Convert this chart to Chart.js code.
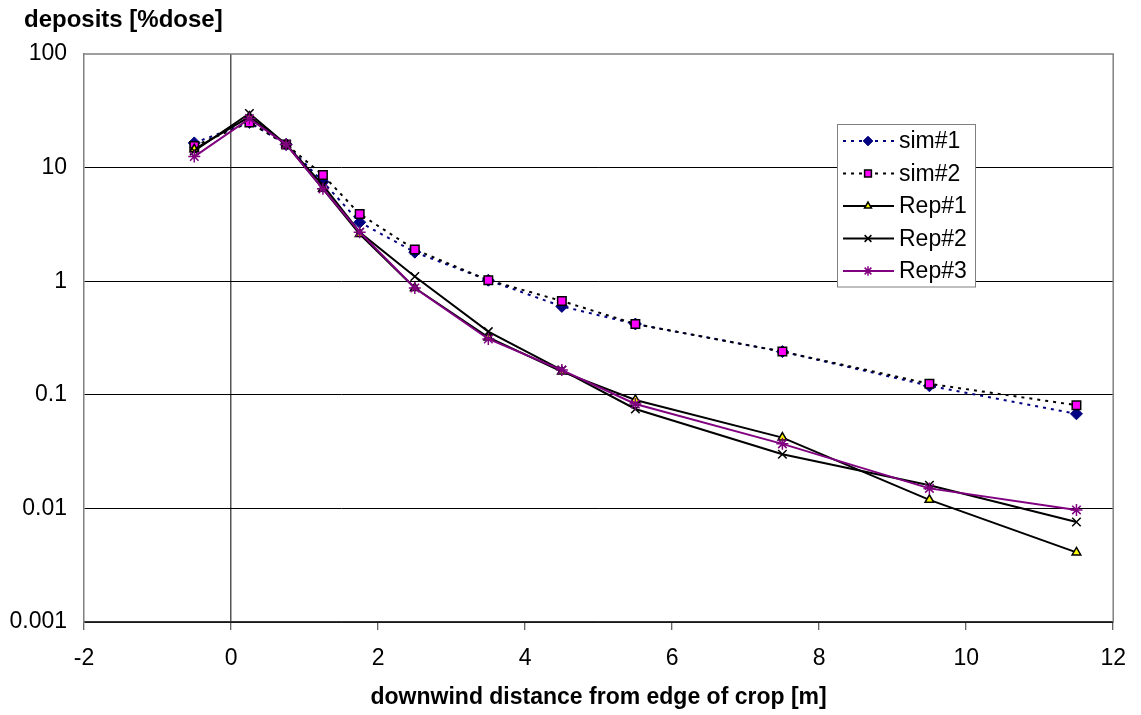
<!DOCTYPE html>
<html>
<head>
<meta charset="utf-8">
<script src="https://cdn.jsdelivr.net/npm/chart.js@4/dist/chart.umd.min.js"></script>
<style>
  html, body { margin: 0; padding: 0; background: #fff; }
  #wrap { width: 1141px; height: 715px; }
</style>
</head>
<body>
<div id="wrap"><canvas id="depChart" width="1141" height="715"></canvas></div>
<script>
// distance downwind from crop edge [m]
const distances = [-0.5, 0.25, 0.75, 1.25, 1.75, 2.5, 3.5, 4.5, 5.5, 7.5, 9.5, 11.5];

// deposits [%dose]
const sim1 = [16.5, 25, 16, 7.5, 3.3, 1.8, 1.02, 0.6, 0.42, 0.24, 0.12, 0.068];
const sim2 = [15.5, 25, 16, 8.6, 3.9, 1.9, 1.02, 0.67, 0.42, 0.24, 0.125, 0.081];
const rep1 = [14.5, 28, 16, 6.5, 2.6, 0.87, 0.32, 0.16, 0.09, 0.042, 0.0119, 0.0041];
const rep2 = [14, 30, 16, 7, 2.7, 1.1, 0.36, 0.165, 0.075, 0.03, 0.016, 0.0076];
const rep3 = [12.5, 27, 16, 6.5, 2.7, 0.87, 0.31, 0.165, 0.083, 0.037, 0.015, 0.0097];

const yTicks = [0.001, 0.01, 0.1, 1, 10, 100];
const xTicks = [-2, 0, 2, 4, 6, 8, 10, 12];

const FONT = "'Liberation Sans', Arial, sans-serif";

const toPoints = vals => vals.map((v, i) => ({ x: distances[i], y: v }));

// legend drawn as Excel does: line sample with marker in the middle
const boxLegend = {
  id: 'boxLegend',
  afterDraw(chart) {
    const ctx = chart.ctx;
    const left = 837, top = 124, w = 138, rowH = 32.5;
    const sets = chart.data.datasets;
    ctx.save();
    ctx.fillStyle = '#fff';
    ctx.fillRect(left, top, w, rowH * sets.length + 0.5);
    ctx.strokeStyle = '#808080';
    ctx.lineWidth = 1;
    ctx.strokeRect(left + 0.5, top + 0.5, w, rowH * sets.length);
    sets.forEach((ds, i) => {
      const cy = top + 17 + i * rowH;
      ctx.beginPath();
      ctx.setLineDash(ds.borderDash || []);
      ctx.strokeStyle = ds.borderColor;
      ctx.lineWidth = ds.borderWidth;
      ctx.moveTo(left + 6, cy);
      ctx.lineTo(left + 57, cy);
      ctx.stroke();
      ctx.setLineDash([]);
      ctx.fillStyle = ds.pointBackgroundColor;
      ctx.strokeStyle = ds.pointBorderColor;
      ctx.lineWidth = ds.pointBorderWidth;
      Chart.helpers.drawPoint(ctx, {
        pointStyle: ds.pointStyle,
        radius: ds.pointRadius * 0.8,
        rotation: 0,
        borderWidth: ds.pointBorderWidth
      }, left + 31, cy);
      ctx.fillStyle = '#000';
      ctx.font = '23px ' + FONT;
      ctx.textBaseline = 'middle';
      ctx.textAlign = 'left';
      ctx.fillText(ds.label, left + 62, cy + 1);
    });
    ctx.restore();
  }
};

// y axis caption sits above the plot, left aligned
const yCaption = {
  id: 'yCaption',
  afterDraw(chart) {
    const ctx = chart.ctx;
    ctx.save();
    ctx.fillStyle = '#000';
    ctx.font = 'bold 24px ' + FONT;
    ctx.textAlign = 'left';
    ctx.textBaseline = 'alphabetic';
    ctx.fillText('deposits [%dose]', 24, 27);
    ctx.restore();
  }
};

// plot frame: gray on top/right
const frame = {
  id: 'frame',
  beforeDatasetsDraw(chart) {
    const a = chart.chartArea, ctx = chart.ctx;
    ctx.save();
    ctx.strokeStyle = '#808080';
    ctx.lineWidth = 1.5;
    ctx.beginPath();
    ctx.moveTo(a.left, a.top);
    ctx.lineTo(a.right, a.top);
    ctx.lineTo(a.right, a.bottom);
    ctx.stroke();
    ctx.restore();
  }
};

new Chart(document.getElementById('depChart').getContext('2d'), {
  type: 'line',
  data: {
    datasets: [
      {
        label: 'sim#1', data: toPoints(sim1), order: 5,
        borderColor: '#000080', borderWidth: 2, borderDash: [3, 5],
        pointStyle: 'rectRot', pointRadius: 6, pointBackgroundColor: '#000080',
        pointBorderColor: '#000080', pointBorderWidth: 1
      },
      {
        label: 'sim#2', data: toPoints(sim2), order: 4,
        borderColor: '#000000', borderWidth: 2, borderDash: [3, 5],
        pointStyle: 'rect', pointRadius: 6, pointBackgroundColor: '#ff00ff',
        pointBorderColor: '#000000', pointBorderWidth: 1.5
      },
      {
        label: 'Rep#1', data: toPoints(rep1), order: 3,
        borderColor: '#000000', borderWidth: 2,
        pointStyle: 'triangle', pointRadius: 5, pointBackgroundColor: '#ffff00',
        pointBorderColor: '#000000', pointBorderWidth: 1.5
      },
      {
        label: 'Rep#2', data: toPoints(rep2), order: 2,
        borderColor: '#000000', borderWidth: 2,
        pointStyle: 'crossRot', pointRadius: 6, pointBackgroundColor: '#000000',
        pointBorderColor: '#000000', pointBorderWidth: 1.5
      },
      {
        label: 'Rep#3', data: toPoints(rep3), order: 1,
        borderColor: '#800080', borderWidth: 2,
        pointStyle: 'star', pointRadius: 6, pointBackgroundColor: '#800080',
        pointBorderColor: '#800080', pointBorderWidth: 1.5
      }
    ]
  },
  options: {
    responsive: false,
    animation: false,
    layout: { padding: { top: 54, right: 26, left: 0, bottom: 0 } },
    elements: { line: { tension: 0, fill: false } },
    plugins: {
      legend: { display: false },
      tooltip: { enabled: false }
    },
    scales: {
      x: {
        type: 'linear',
        min: -2,
        max: 12,
        afterBuildTicks: s => { s.ticks = xTicks.map(v => ({ value: v })); },
        afterFit: s => { s.height = 93; },
        border: { color: '#333', width: 1.5 },
        grid: {
          color: c => (c.tick && c.tick.value === 0) ? '#555' : 'transparent',
          lineWidth: 1.5,
          drawTicks: true,
          tickLength: 8,
          tickColor: '#333',
          tickWidth: 1
        },
        ticks: {
          color: '#000',
          font: { family: FONT, size: 23 },
          padding: 15,
          maxRotation: 0
        },
        title: {
          display: true,
          text: 'downwind distance from edge of crop [m]',
          color: '#000',
          font: { family: FONT, size: 23, weight: 'bold' },
          padding: { top: 0, bottom: 4 }
        }
      },
      y: {
        type: 'logarithmic',
        min: 0.001,
        max: 100,
        afterBuildTicks: s => { s.ticks = yTicks.map(v => ({ value: v })); },
        afterFit: s => { s.width = 84; },
        border: { color: '#808080', width: 1.5 },
        grid: {
          color: c => (c.tick && c.tick.value === 100) ? 'transparent' : '#000',
          lineWidth: 1,
          drawTicks: false
        },
        ticks: {
          color: '#000',
          font: { family: FONT, size: 23 },
          padding: 17,
          callback: v => String(v)
        }
      }
    }
  },
  plugins: [frame, yCaption, boxLegend]
});
</script>
</body>
</html>
